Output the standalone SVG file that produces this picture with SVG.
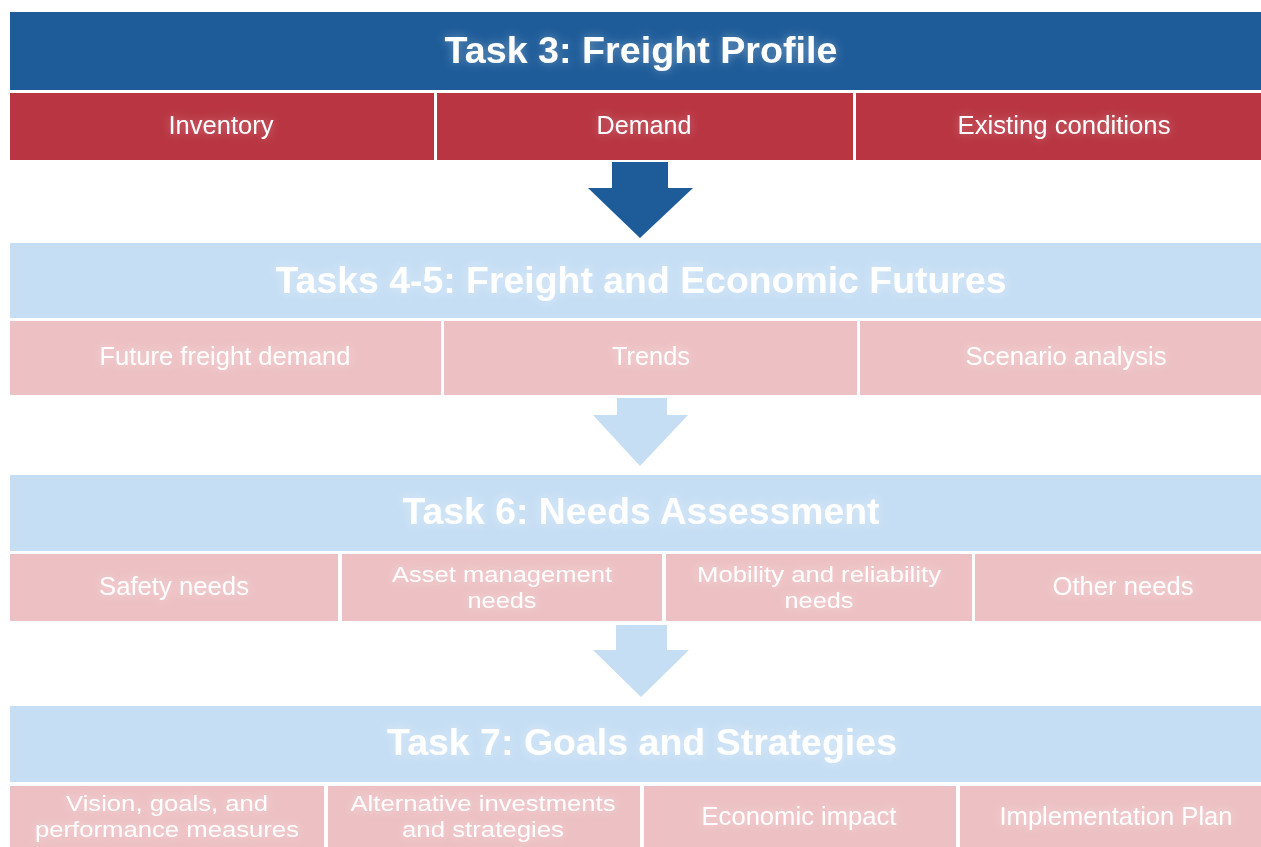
<svg xmlns="http://www.w3.org/2000/svg" width="1261" height="847" viewBox="0 0 1261 847">
<defs>
<filter id="glow" x="-20%" y="-50%" width="140%" height="200%">
<feGaussianBlur in="SourceAlpha" stdDeviation="5" result="b"/>
<feFlood flood-color="#ffffff" flood-opacity="0.35"/>
<feComposite in2="b" operator="in" result="g"/>
<feMerge><feMergeNode in="g"/><feMergeNode in="SourceGraphic"/></feMerge>
</filter>
</defs>
<style>
.hd{fill:#1E5C99}
.rd{fill:#B83541}
.lb{fill:#C6DEF4}
.pk{fill:#EDC1C4}
.t{font-family:"Liberation Sans",Arial,sans-serif;font-weight:bold;font-size:37px;fill:#fff;text-anchor:middle;filter:url(#glow)}
.c{font-family:"Liberation Sans",Arial,sans-serif;font-size:26px;fill:#fff;text-anchor:middle;filter:url(#glow)}
.c2{font-family:"Liberation Sans",Arial,sans-serif;font-size:22px;fill:#fff;text-anchor:middle;filter:url(#glow)}
</style>
<rect width="1261" height="847" fill="#fff"/>

<g id="connectors">
<polygon class="hd" points="612,162 668,162 668,188 693,188 640,238 588,188 612,188"/>
<polygon class="lb" points="617,398 667,398 667,415 688,415 640,466 593,415 617,415"/>
<polygon class="lb" points="616,625 667,625 667,650 689,650 641,697 593,650 616,650"/>
</g>

<g id="task3">
<rect class="hd" x="10" y="12" width="1251" height="78"/>
<text class="t" x="641" y="63" textLength="393" lengthAdjust="spacingAndGlyphs">Task 3: Freight Profile</text>
</g>
<g id="inventory"><rect class="rd" x="10" y="93" width="424" height="67"/><text class="c" x="221" y="134" textLength="105" lengthAdjust="spacingAndGlyphs">Inventory</text></g>
<g id="demand"><rect class="rd" x="437" y="93" width="416" height="67"/><text class="c" x="644" y="134" textLength="95" lengthAdjust="spacingAndGlyphs">Demand</text></g>
<g id="existing"><rect class="rd" x="856" y="93" width="405" height="67"/><text class="c" x="1064" y="134" textLength="213" lengthAdjust="spacingAndGlyphs">Existing conditions</text></g>

<g id="task45">
<rect class="lb" x="10" y="243" width="1251" height="75"/>
<text class="t" x="641" y="293" textLength="731" lengthAdjust="spacingAndGlyphs">Tasks 4-5: Freight and Economic Futures</text>
</g>
<g id="future"><rect class="pk" x="10" y="321" width="431" height="74"/><text class="c" x="225" y="365" textLength="251" lengthAdjust="spacingAndGlyphs">Future freight demand</text></g>
<g id="trends"><rect class="pk" x="444" y="321" width="413" height="74"/><text class="c" x="651" y="365" textLength="78" lengthAdjust="spacingAndGlyphs">Trends</text></g>
<g id="scenario"><rect class="pk" x="860" y="321" width="401" height="74"/><text class="c" x="1066" y="365" textLength="201" lengthAdjust="spacingAndGlyphs">Scenario analysis</text></g>

<g id="task6">
<rect class="lb" x="10" y="475" width="1251" height="76"/>
<text class="t" x="641" y="524" textLength="477" lengthAdjust="spacingAndGlyphs">Task 6: Needs Assessment</text>
</g>
<g id="safety"><rect class="pk" x="10" y="554" width="328" height="67"/><text class="c" x="174" y="595" textLength="150" lengthAdjust="spacingAndGlyphs">Safety needs</text></g>
<g id="asset"><rect class="pk" x="342" y="554" width="320" height="67"/><text class="c2" x="502" y="582" textLength="220" lengthAdjust="spacingAndGlyphs">Asset management</text><text class="c2" x="502" y="608" textLength="69" lengthAdjust="spacingAndGlyphs">needs</text></g>
<g id="mobility"><rect class="pk" x="666" y="554" width="306" height="67"/><text class="c2" x="819" y="582" textLength="244" lengthAdjust="spacingAndGlyphs">Mobility and reliability</text><text class="c2" x="819" y="608" textLength="69" lengthAdjust="spacingAndGlyphs">needs</text></g>
<g id="other"><rect class="pk" x="975" y="554" width="286" height="67"/><text class="c" x="1123" y="595" textLength="141" lengthAdjust="spacingAndGlyphs">Other needs</text></g>

<g id="task7">
<rect class="lb" x="10" y="706" width="1251" height="76"/>
<text class="t" x="642" y="755" textLength="510" lengthAdjust="spacingAndGlyphs">Task 7: Goals and Strategies</text>
</g>
<g id="vision"><rect class="pk" x="10" y="786" width="314" height="61"/><text class="c2" x="167" y="811" textLength="202" lengthAdjust="spacingAndGlyphs">Vision, goals, and</text><text class="c2" x="167" y="837" textLength="264" lengthAdjust="spacingAndGlyphs">performance measures</text></g>
<g id="alternative"><rect class="pk" x="328" y="786" width="312" height="61"/><text class="c2" x="483" y="811" textLength="265" lengthAdjust="spacingAndGlyphs">Alternative investments</text><text class="c2" x="483" y="837" textLength="162" lengthAdjust="spacingAndGlyphs">and strategies</text></g>
<g id="economic"><rect class="pk" x="644" y="786" width="312" height="61"/><text class="c" x="799" y="825" textLength="195" lengthAdjust="spacingAndGlyphs">Economic impact</text></g>
<g id="implementation"><rect class="pk" x="960" y="786" width="301" height="61"/><text class="c" x="1116" y="825" textLength="233" lengthAdjust="spacingAndGlyphs">Implementation Plan</text></g>
</svg>
